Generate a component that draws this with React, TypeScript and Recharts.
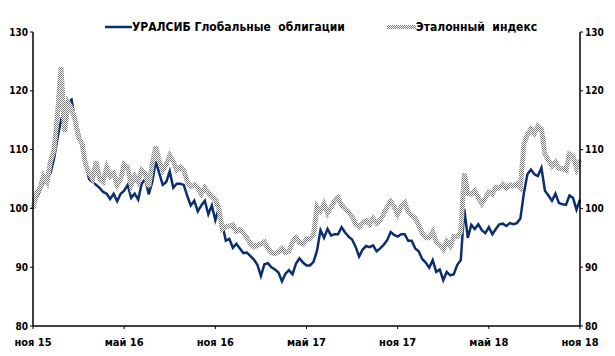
import React from 'react';
import { LineChart, Line, XAxis, YAxis, Legend } from 'recharts';

// weekly points, Nov 2015 .. Nov 2018
const uralsib = [
  101.5, 101.8, 103, 104.5, 105, 106, 108.5, 112, 115, 114, 118, 118.5, 115, 113, 110.5, 107.5,
  105, 104.5, 104, 103.5, 102.8, 102.5, 101.6, 102.5, 101.2, 102.5, 103, 104, 101.8, 102.5, 101.5,
  104.2, 105, 102.4, 104.5, 108, 106, 104, 104.5, 106.3, 103.5, 104.2, 104.2, 104, 102.1, 100.5,
  101.3, 99.5, 100.5, 101.3, 99, 100.5, 98, 100, 97.2, 94.5, 94.8, 93.3, 94, 93.2, 92.4, 92.5,
  91.9, 91.3, 90.4, 88.5, 90.5, 90.7, 90, 89.6, 89.1, 87.6, 88.9, 89.5, 88.8, 90.6, 91.5, 90.8,
  90.3, 90.3, 90.9, 92.8, 96.3, 95, 96.5, 95.4, 95.6, 95.6, 96.8, 95.9, 95.2, 94.7, 93.5, 91.8,
  93, 93.6, 93.4, 93.7, 92.7, 93.2, 93.8, 94.6, 96, 95.5, 95.2, 95.6, 95.6, 94.5, 94.5, 93.2,
  92.7, 91.4, 90.8, 89.9, 91.2, 89.2, 89.6, 87.8, 89.2, 88.6, 88.8, 90.4, 91.2, 99.9, 95, 97.2,
  96.5, 97.3, 96.3, 95.8, 96.8, 95.6, 96.5, 97.3, 97.4, 97, 97.5, 97.3, 97.5, 98.3, 102.6, 105.8,
  106.6, 105.8, 105.5, 106.9, 103, 102.2, 101.3, 102.5, 100.9, 100.7, 100.6, 102.2, 101.8, 99.8,
  101.5,
];

const benchmark = [
  100, 102.5, 103.5, 105.5, 104.5, 108, 110, 116, 124, 113, 118, 117, 115, 112, 111, 107.5, 106,
  105, 108, 105, 104.5, 107, 105.5, 106, 104, 105, 107.5, 107, 104, 105.5, 104.5, 106.5, 105.9,
  103.7, 107.5, 110.5, 108, 106.5, 107.5, 109, 108, 106.5, 107, 106.5, 104.5, 103.7, 104, 103.5,
  102.4, 103.5, 102.6, 102, 101.5, 100, 96.5, 96.9, 97, 97.2, 96.1, 96.4, 95.8, 95, 94, 93.5,
  93.7, 94, 94.3, 93.2, 92.5, 92.3, 92.6, 93.2, 92.5, 92.7, 94.3, 95, 94.2, 93.9, 94.8, 94.8,
  95.5, 100.3, 99.6, 100.8, 99.2, 100.2, 101.3, 101.8, 100.6, 99.9, 99.4, 98.6, 97.3, 96.9, 97.6,
  97.9, 97.3, 98.3, 97.5, 98, 99, 100.3, 101.2, 100.3, 99, 100.4, 101, 99.4, 98.8, 98.3, 97.1,
  95.8, 95, 95, 96, 94.3, 93.7, 93, 94.4, 93.6, 95.2, 95.2, 96, 106, 102.5, 102.4, 103, 101.8,
  100.8, 101.8, 102.8, 102.4, 103.6, 103.5, 104.1, 103.5, 104, 103.8, 104.2, 103.5, 111, 112.5,
  113.5, 112.7, 114, 113.5, 109.2, 108.2, 107.2, 107.9, 106.8, 106.8, 106.5, 109.2, 108.8, 106.8,
  108.3,
];

const tickWeeks = [0, 26, 52, 78, 104, 130, 156];
const tickLabels = ['ноя 15', 'май 16', 'ноя 16', 'май 17', 'ноя 17', 'май 18', 'ноя 18'];
const yTicks = [80, 90, 100, 110, 120, 130];

const data = uralsib.map((v, i) => ({ i, uralsib: v, benchmark: benchmark[i] }));

const FONT = "'Liberation Sans Narrow', 'Arial Narrow', 'DejaVu Sans Condensed', sans-serif";
const NAVY = '#0b2f6e';

const renderLegend = () => (
  <div style={{ display: 'flex', alignItems: 'center', fontFamily: FONT, fontWeight: 'bold', fontSize: 12, color: '#000' }}>
    <svg width={27} height={6}>
      <line x1={0} y1={3} x2={27} y2={3} stroke={NAVY} strokeWidth={2.5} />
    </svg>
    <span style={{ marginRight: 42, whiteSpace: 'pre' }}>УРАЛСИБ Глобальные  облигации</span>
    <svg width={29} height={6}>
      <rect x={0} y={1} width={29} height={4} fill="url(#checker)" />
    </svg>
    <span style={{ whiteSpace: 'pre' }}>Эталонный  индекс</span>
  </div>
);

export default function App() {
  return (
    <div style={{ position: 'absolute', left: 0, top: 0, width: 615, height: 356, background: '#fff' }}>
      <LineChart width={615} height={356} data={data} margin={{ top: 18, right: 0, bottom: 0, left: 0 }}>
        <defs>
          <pattern id="checker" width={2} height={2} patternUnits="userSpaceOnUse">
            <rect x={0} y={0} width={2} height={2} fill="#fff" />
            <rect x={0} y={0} width={1} height={1} fill="#7a7a7a" />
            <rect x={1} y={1} width={1} height={1} fill="#7a7a7a" />
          </pattern>
        </defs>
        <XAxis
          dataKey="i"
          type="number"
          domain={[0, 156]}
          ticks={tickWeeks}
          tickFormatter={(v) => tickLabels[tickWeeks.indexOf(v)]}
          height={30}
          interval={0}
          axisLine={{ stroke: '#000', strokeWidth: 1.5 }}
          tickLine={{ stroke: '#000' }}
          tickSize={3}
          tickMargin={9}
          tick={{ fontFamily: FONT, fontWeight: 'bold', fontSize: 11, fill: '#000' }}
        />
        <YAxis
          yAxisId="left"
          type="number"
          domain={[80, 130]}
          ticks={yTicks}
          width={33}
          interval={0}
          axisLine={{ stroke: '#000', strokeWidth: 1.5 }}
          tickLine={{ stroke: '#000' }}
          tickSize={3}
          tick={{ fontFamily: FONT, fontWeight: 'bold', fontSize: 10, fill: '#000' }}
        />
        <YAxis
          yAxisId="right"
          orientation="right"
          type="number"
          domain={[80, 130]}
          ticks={yTicks}
          width={35}
          interval={0}
          axisLine={{ stroke: '#000', strokeWidth: 1.5 }}
          tickLine={{ stroke: '#000' }}
          tickSize={3}
          tick={{ fontFamily: FONT, fontWeight: 'bold', fontSize: 10, fill: '#000' }}
        />
        <Legend
          verticalAlign="top"
          align="left"
          content={renderLegend}
          wrapperStyle={{ top: 20, left: 105, width: 460 }}
        />
        <Line
          yAxisId="right"
          dataKey="uralsib"
          type="linear"
          stroke={NAVY}
          strokeWidth={2.5}
          dot={false}
          isAnimationActive={false}
        />
        <Line
          yAxisId="left"
          dataKey="benchmark"
          type="linear"
          stroke="url(#checker)"
          strokeWidth={5}
          dot={false}
          isAnimationActive={false}
        />
      </LineChart>
    </div>
  );
}
